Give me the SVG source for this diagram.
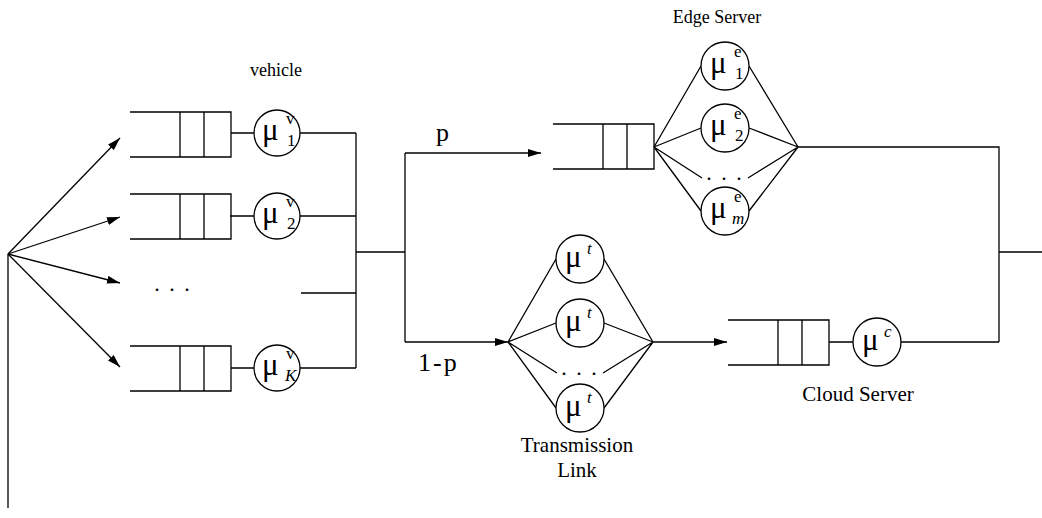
<svg xmlns="http://www.w3.org/2000/svg" width="1042" height="518" viewBox="0 0 1042 518">
  <style>
    .ln { stroke: #000; stroke-width: 1.3; fill: none; }
    .srv { stroke: #000; stroke-width: 1.3; fill: #fff; }
    .lbl { font-family: "Liberation Serif", "Times New Roman", serif; font-size: 18px; fill: #000; }
    .lbl2 { font-family: "Liberation Serif", "Times New Roman", serif; font-size: 21px; fill: #000; }
    .big { font-family: "Liberation Serif", "Times New Roman", serif; font-size: 26px; fill: #000; }
    .mu { font-family: "Liberation Serif", "Times New Roman", serif; font-size: 31px; fill: #000; }
    .idx { font-family: "Liberation Serif", "Times New Roman", serif; font-size: 17px; fill: #000; }
    .it { font-style: italic; }
    .dots { font-family: "Liberation Serif", "Times New Roman", serif; font-size: 22px; fill: #000; letter-spacing: 2px; }
  </style>
  <defs>
    <marker id="arrow" viewBox="0 0 13 8" refX="13" refY="4" markerWidth="13" markerHeight="8" markerUnits="userSpaceOnUse" orient="auto">
      <path d="M0,0 L13,4 L0,8 Z" fill="#000"/>
    </marker>
    <!-- a queue buffer: open on the left, two slots at the right end -->
    <g id="queue">
      <path class="ln" d="M0,0 H101 V45 H0 M50,0 V45 M74,0 V45"/>
    </g>
  </defs>

  <!-- connectors -->
  <g id="connectors">
    <!-- arrival fan -->
    <path class="ln" d="M8,254 V508"/>
    <line class="ln" x1="8" y1="254" x2="120" y2="138" marker-end="url(#arrow)"/>
    <line class="ln" x1="8" y1="254" x2="120" y2="217" marker-end="url(#arrow)"/>
    <line class="ln" x1="8" y1="254" x2="120" y2="283" marker-end="url(#arrow)"/>
    <line class="ln" x1="8" y1="254" x2="120" y2="367" marker-end="url(#arrow)"/>
    <!-- vehicle queues to servers -->
    <path class="ln" d="M231,133 H254 M230,216 H254 M231,368 H254"/>
    <!-- vehicle outputs merge -->
    <path class="ln" d="M300,133 H356 M300,216 H356 M301,293 H356 M300,368 H356 M356,133 V368 M356,252 H405 M405,153 V342"/>
    <!-- offload split -->
    <line class="ln" x1="405" y1="153" x2="541" y2="153" marker-end="url(#arrow)"/>
    <line class="ln" x1="405" y1="342" x2="508" y2="342" marker-end="url(#arrow)"/>
    <!-- edge server fan -->
    <path class="ln" d="M654,147 L701,66 M654,147 L701,128 M654,147 L702,178 M654,147 L701,211"/>
    <path class="ln" d="M749,66 L798,147 M749,128 L798,147 M748,178 L798,147 M749,211 L798,147"/>
    <path class="ln" d="M798,147 H999 V342 M999,252 H1042"/>
    <!-- transmission link fan -->
    <path class="ln" d="M508,342 L556,259 M508,342 L556,323 M508,342 L557,373 M508,342 L556,408"/>
    <path class="ln" d="M604,259 L653,342 M604,323 L653,342 M603,373 L653,342 M604,408 L653,342"/>
    <line class="ln" x1="653" y1="342" x2="727" y2="342" marker-end="url(#arrow)"/>
    <!-- cloud server -->
    <path class="ln" d="M829,342 H853 M901,342 H999"/>
  </g>

  <text class="lbl" x="276" y="76" text-anchor="middle">vehicle</text>
  <text class="big" x="436" y="141">p</text>
  <text class="big" x="418" y="371" letter-spacing="2">1-p</text>

  <!-- vehicle 1 -->
  <g id="vehicle-1">
    <use href="#queue" x="130" y="112"/>
    <circle class="srv" cx="277" cy="133" r="23"/>
    <text class="mu" x="262" y="140">μ</text>
    <text class="idx" x="286" y="124">v</text>
    <text class="idx" x="287" y="146">1</text>
  </g>
  <!-- vehicle 2 -->
  <g id="vehicle-2">
    <use href="#queue" x="130" y="194"/>
    <circle class="srv" cx="277" cy="216" r="23"/>
    <text class="mu" x="262" y="223">μ</text>
    <text class="idx" x="286" y="207">v</text>
    <text class="idx" x="287" y="229">2</text>
  </g>
  <!-- omitted vehicles -->
  <g id="vehicle-dots">
    <text class="dots" x="173" y="291" text-anchor="middle">. . .</text>
  </g>
  <!-- vehicle K -->
  <g id="vehicle-K">
    <use href="#queue" x="130" y="346"/>
    <circle class="srv" cx="277" cy="368" r="23"/>
    <text class="mu" x="262" y="375">μ</text>
    <text class="idx" x="286" y="359">v</text>
    <text class="idx it" x="285" y="381">K</text>
  </g>

  <!-- edge server -->
  <g id="edge-server">
    <text class="lbl" x="717" y="23" text-anchor="middle">Edge Server</text>
    <use href="#queue" x="553" y="124"/>
    <circle class="srv" cx="725" cy="66" r="24"/>
    <text class="mu" x="710" y="73">μ</text>
    <text class="idx" x="734" y="57">e</text>
    <text class="idx" x="735" y="79">1</text>
    <circle class="srv" cx="725" cy="128" r="24"/>
    <text class="mu" x="710" y="135">μ</text>
    <text class="idx" x="734" y="119">e</text>
    <text class="idx" x="735" y="141">2</text>
    <text class="dots" x="725" y="180" text-anchor="middle">. . .</text>
    <circle class="srv" cx="725" cy="211" r="24"/>
    <text class="mu" x="710" y="218">μ</text>
    <text class="idx" x="734" y="202">e</text>
    <text class="idx it" x="732" y="224">m</text>
  </g>

  <!-- transmission link -->
  <g id="transmission-link">
    <circle class="srv" cx="580" cy="259" r="24"/>
    <text class="mu" x="565" y="267">μ</text>
    <text class="idx it" x="587" y="254">t</text>
    <circle class="srv" cx="580" cy="323" r="24"/>
    <text class="mu" x="565" y="331">μ</text>
    <text class="idx it" x="587" y="318">t</text>
    <text class="dots" x="580" y="375" text-anchor="middle">. . .</text>
    <circle class="srv" cx="580" cy="408" r="24"/>
    <text class="mu" x="565" y="416">μ</text>
    <text class="idx it" x="587" y="403">t</text>
    <text class="lbl2" x="577" y="452" text-anchor="middle">Transmission</text>
    <text class="lbl2" x="577" y="477" text-anchor="middle">Link</text>
  </g>

  <!-- cloud server -->
  <g id="cloud-server">
    <use href="#queue" x="728" y="320"/>
    <circle class="srv" cx="877" cy="342" r="24"/>
    <text class="mu" x="862" y="350">μ</text>
    <text class="idx it" x="884" y="337">c</text>
    <text class="lbl2" x="858" y="401" text-anchor="middle">Cloud Server</text>
  </g>
</svg>
